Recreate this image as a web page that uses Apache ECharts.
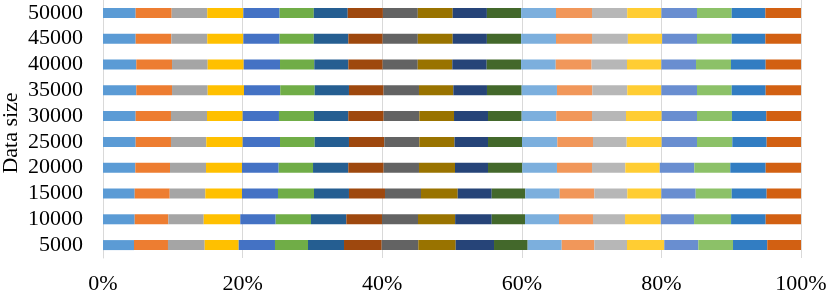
<!DOCTYPE html>
<html>
<head>
<meta charset="utf-8">
<script src="https://cdn.jsdelivr.net/npm/echarts@6/dist/echarts.min.js"></script>
<style>html,body{margin:0;padding:0;background:#fff;}#c{width:831px;height:295px;}</style>
</head>
<body>
<div id="c"></div>
<script>
const categories = ['5000','10000','15000','20000','25000','30000','35000','40000','45000','50000'];
const xTicks = ['0%','20%','40%','60%','80%','100%'];
const yAxisName = 'Data size';
const s1  = [4.44, 4.54, 4.54, 4.63, 4.68, 4.68, 4.77, 4.77, 4.68, 4.68];
const s2  = [4.87, 4.82, 5.02, 4.97, 5.06, 5.06, 5.12, 5.12, 5.11, 5.16];
const s3  = [5.26, 5.07, 5.10, 5.16, 5.06, 5.16, 5.11, 5.11, 5.15, 5.10];
const s4  = [4.87, 5.24, 5.25, 5.15, 5.21, 5.11, 5.20, 5.16, 5.16, 5.16];
const s5  = [5.20, 5.07, 5.16, 5.26, 5.35, 5.20, 5.20, 5.20, 5.20, 5.20];
const s6  = [4.73, 5.06, 5.16, 4.92, 4.97, 5.02, 4.93, 4.91, 4.90, 4.90];
const s7  = [5.16, 5.06, 5.01, 5.05, 4.91, 4.91, 4.91, 4.88, 4.95, 4.86];
const s8  = [5.40, 5.11, 5.16, 5.07, 5.06, 5.07, 4.96, 4.92, 4.92, 5.04];
const s9  = [5.24, 5.16, 5.16, 5.06, 5.02, 5.11, 5.07, 5.02, 5.03, 5.00];
const s10 = [5.36, 5.32, 5.26, 5.16, 5.04, 4.97, 4.92, 4.95, 5.00, 5.00];
const s11 = [5.49, 5.24, 4.87, 4.73, 4.80, 4.87, 4.82, 4.93, 4.90, 4.90];
const s12 = [4.82, 4.77, 4.81, 4.91, 4.87, 4.82, 4.97, 4.92, 4.90, 4.90];
const s13 = [4.88, 4.87, 4.93, 4.97, 5.06, 4.96, 5.06, 4.97, 5.00, 5.00];
const s14 = [4.67, 4.87, 4.96, 5.02, 5.11, 5.12, 5.06, 5.14, 5.16, 5.16];
const s15 = [4.68, 4.59, 4.73, 4.77, 4.83, 4.87, 5.01, 5.07, 5.14, 5.04];
const s16 = [5.34, 5.12, 4.87, 4.93, 5.01, 5.11, 4.88, 4.92, 4.90, 4.90];
const s17 = [4.88, 4.77, 4.92, 4.95, 5.06, 5.06, 5.11, 4.97, 5.00, 5.10];
const s18 = [4.97, 5.30, 5.16, 5.16, 5.06, 5.01, 4.97, 5.01, 4.97, 4.97];
const s19 = [4.91, 4.96, 5.01, 5.07, 4.92, 4.92, 4.87, 4.97, 4.83, 4.83];
const s20 = [4.83, 5.06, 4.92, 5.06, 4.92, 4.97, 5.06, 5.06, 5.10, 5.10];
const seriesData = [s1,s2,s3,s4,s5,s6,s7,s8,s9,s10,s11,s12,s13,s14,s15,s16,s17,s18,s19,s20];
const colors = ['#5B9BD5','#ED7D31','#A5A5A5','#FFC000','#4472C4','#70AD47','#255E91','#9E480E','#636363','#997300',
                '#264478','#43682B','#7CAFDD','#F1975A','#B7B7B7','#FFCD33','#698ED0','#8CC168','#327DC2','#D26012'];

const font = '"Liberation Serif", "Times New Roman", serif';
const chart = echarts.init(document.getElementById('c'), null, {renderer:'canvas'});
chart.setOption({
  animation: false,
  grid: {left: 103, right: 30, top: 0, bottom: 37, containLabel: false, outerBoundsMode: 'none'},
  graphic: [{
    type: 'text', x: 11, y: 133, rotation: Math.PI / 2,
    style: {text: yAxisName, font: '22px ' + font, fill: '#000', align: 'center', verticalAlign: 'middle'}
  }],
  xAxis: {
    type: 'value', min: 0, max: 100, interval: 20,
    axisLine: {show: false}, axisTick: {show: false},
    splitLine: {show: true, lineStyle: {color: '#D9D9D9', width: 1}},
    axisLabel: {fontFamily: font, fontSize: 22, color: '#000', margin: 15, hideOverlap: false,
      formatter: function(v){ return xTicks[Math.round(v/20)]; }}
  },
  yAxis: {
    type: 'category', data: categories,
    axisLine: {show: true, lineStyle: {color: '#D9D9D9'}}, axisTick: {show: false},
    axisLabel: {fontFamily: font, fontSize: 22, color: '#000', margin: 20, interval: 0, hideOverlap: false}
  },
  series: seriesData.map((d, i) => ({
    type: 'bar', stack: 'all', data: d, barWidth: 10,
    itemStyle: {color: colors[i]}
  }))
});
</script>
</body>
</html>
